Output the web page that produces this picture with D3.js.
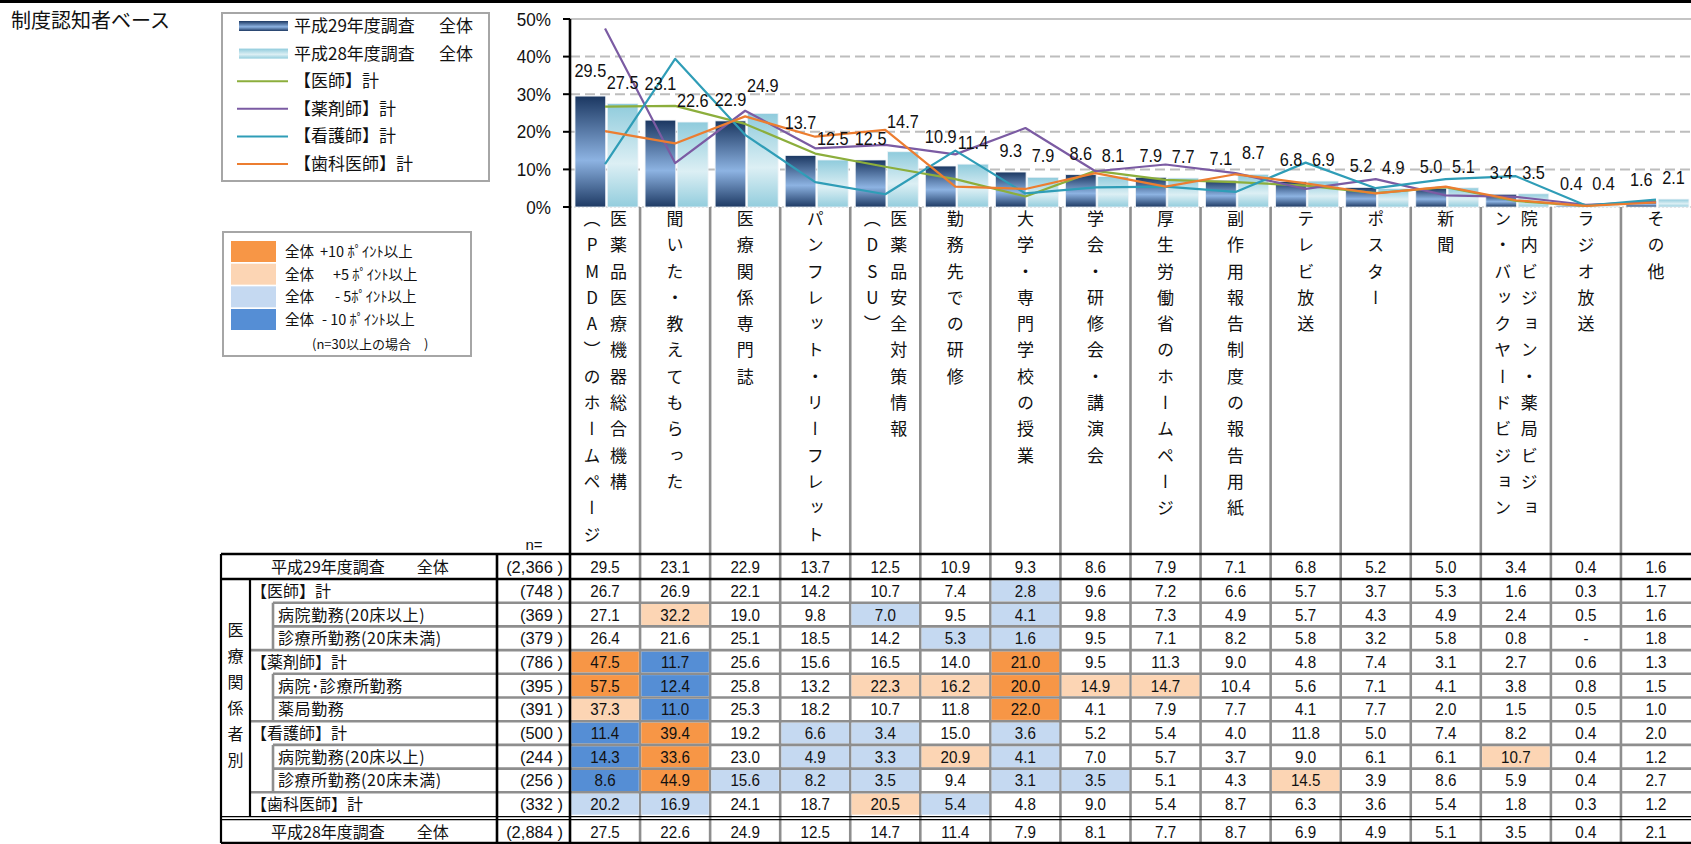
<!DOCTYPE html>
<html>
<head>
<meta charset="utf-8">
<script src="https://cdn.jsdelivr.net/npm/d3@7"></script>
<style>
  body { margin: 0; background: #fff; }
  svg { display: block; font-family: "Liberation Sans", Arial, sans-serif; }
  .jp { font-family: "Noto Sans CJK JP", "Noto Sans CJK SC", sans-serif; }
  .vert { writing-mode: vertical-rl; text-orientation: upright; }
</style>
</head>
<body>
<svg id="chart" width="1691" height="844"></svg>
<script>
// 認知経路（複数回答）: categories, with "\n" where the vertical label wraps to a new column
const categories = [
  "医薬品医療機器総合機構\n（PMDA）のホームページ",
  "聞いた・教えてもらった",
  "医療関係専門誌",
  "パンフレット・リーフレット",
  "医薬品安全対策情報\n（DSU）",
  "勤務先での研修",
  "大学・専門学校の授業",
  "学会・研修会・講演会",
  "厚生労働省のホームページ",
  "副作用報告制度の報告用紙",
  "テレビ放送",
  "ポスター",
  "新聞",
  "院内ビジョン・薬局ビジョ\nン・バックヤードビジョン",
  "ラジオ放送",
  "その他"
];

const yTicks = [0, 10, 20, 30, 40, 50];

// 平成29年度調査 全体 / 平成28年度調査 全体
const h29All = [29.5, 23.1, 22.9, 13.7, 12.5, 10.9, 9.3, 8.6, 7.9, 7.1, 6.8, 5.2, 5.0, 3.4, 0.4, 1.6];
const h28All = [27.5, 22.6, 24.9, 12.5, 14.7, 11.4, 7.9, 8.1, 7.7, 8.7, 6.9, 4.9, 5.1, 3.5, 0.4, 2.1];

// 医療関係者別
const doctorAll      = [26.7, 26.9, 22.1, 14.2, 10.7, 7.4, 2.8, 9.6, 7.2, 6.6, 5.7, 3.7, 5.3, 1.6, 0.3, 1.7];
const doctorHospital = [27.1, 32.2, 19.0, 9.8, 7.0, 9.5, 4.1, 9.8, 7.3, 4.9, 5.7, 4.3, 4.9, 2.4, 0.5, 1.6];
const doctorClinic   = [26.4, 21.6, 25.1, 18.5, 14.2, 5.3, 1.6, 9.5, 7.1, 8.2, 5.8, 3.2, 5.8, 0.8, null, 1.8];
const pharmAll       = [47.5, 11.7, 25.6, 15.6, 16.5, 14.0, 21.0, 9.5, 11.3, 9.0, 4.8, 7.4, 3.1, 2.7, 0.6, 1.3];
const pharmHospClin  = [57.5, 12.4, 25.8, 13.2, 22.3, 16.2, 20.0, 14.9, 14.7, 10.4, 5.6, 7.1, 4.1, 3.8, 0.8, 1.5];
const pharmPharmacy  = [37.3, 11.0, 25.3, 18.2, 10.7, 11.8, 22.0, 4.1, 7.9, 7.7, 4.1, 7.7, 2.0, 1.5, 0.5, 1.0];
const nurseAll       = [11.4, 39.4, 19.2, 6.6, 3.4, 15.0, 3.6, 5.2, 5.4, 4.0, 11.8, 5.0, 7.4, 8.2, 0.4, 2.0];
const nurseHospital  = [14.3, 33.6, 23.0, 4.9, 3.3, 20.9, 4.1, 7.0, 5.7, 3.7, 9.0, 6.1, 6.1, 10.7, 0.4, 1.2];
const nurseClinic    = [8.6, 44.9, 15.6, 8.2, 3.5, 9.4, 3.1, 3.5, 5.1, 4.3, 14.5, 3.9, 8.6, 5.9, 0.4, 2.7];
const dentistAll     = [20.2, 16.9, 24.1, 18.7, 20.5, 5.4, 4.8, 9.0, 5.4, 8.7, 6.3, 3.6, 5.4, 1.8, 0.3, 1.2];

const rowLabels = [
  "平成29年度調査　　全体", "【医師】計", "病院勤務(20床以上)", "診療所勤務(20床未満)",
  "【薬剤師】計", "病院･診療所勤務", "薬局勤務",
  "【看護師】計", "病院勤務(20床以上)", "診療所勤務(20床未満)",
  "【歯科医師】計", "平成28年度調査　　全体"
];
const rowN = ["(2,366 )", "(748 )", "(369 )", "(379 )", "(786 )", "(395 )", "(391 )",
              "(500 )", "(244 )", "(256 )", "(332 )", "(2,884 )"];
const rowKinds = ["total", "group", "sub", "sub", "group", "sub", "sub",
                  "group", "sub", "sub", "group", "total"];
const rowValues = [h29All, doctorAll, doctorHospital, doctorClinic, pharmAll, pharmHospClin,
                   pharmPharmacy, nurseAll, nurseHospital, nurseClinic, dentistAll, h28All];

const lineSeries = [
  { name: "【医師】計",     values: doctorAll,  color: "#8cae3c" },
  { name: "【薬剤師】計",   values: pharmAll,   color: "#7b5ba3" },
  { name: "【看護師】計",   values: nurseAll,   color: "#2f9db7" },
  { name: "【歯科医師】計", values: dentistAll, color: "#ec7d30" }
];

const highlightLegend = [
  { color: "#F79646", lead: "全体", text: "+10 ﾎﾟｲﾝﾄ以上", dx: 35 },
  { color: "#FCD5B4", lead: "全体", text: "+5 ﾎﾟｲﾝﾄ以上",  dx: 48 },
  { color: "#C5D9F1", lead: "全体", text: "- 5ﾎﾟｲﾝﾄ以上",   dx: 50 },
  { color: "#558ED5", lead: "全体", text: "- 10 ﾎﾟｲﾝﾄ以上", dx: 37 }
];

// hand-placed lifts for a few value labels that sit clear of the lines
const h29LabelLift = [4, 15, 0, 11, 0, 8, 0, 0, 0, 0, 0, 0, 0, 0, 0, 0];
const h28LabelLift = [0, 0, 6, 0, 9, 0, 0, 0, 0, 0, 0, 0, 0, 0, 0, 0];

// ---------------------------------------------------------------------------
const svg = d3.select("#chart");
const W = 1691, H = 844;

const x = d3.scaleBand().domain(categories).range([570, W]);
const xs = d3.scaleBand().domain(["h29", "h28"]).range([5, 68]).paddingInner(0.05);
const y = d3.scaleLinear().domain([0, 50]).range([207, 19]);
const cx = c => x(c) + x.bandwidth() / 2;

const defs = svg.append("defs");
function vGrad(id, stops) {
  const g = defs.append("linearGradient").attr("id", id)
    .attr("x1", 0).attr("y1", 0).attr("x2", 0).attr("y2", 1);
  stops.forEach(([o, c]) => g.append("stop").attr("offset", o).attr("stop-color", c));
}
vGrad("g29", [[0, "#1b3761"], [0.58, "#8db3e2"], [1, "#1e3a64"]]);
vGrad("g28", [[0, "#8fcbdc"], [0.58, "#dceff4"], [1, "#93cddd"]]);

function condensed(sel, px, py, str, opts) {
  const o = Object.assign({ size: 16, sx: 1, anchor: "middle", fill: "#111" }, opts || {});
  return sel.append("text")
    .attr("transform", `translate(${px},${py}) scale(${o.sx},1)`)
    .attr("text-anchor", o.anchor)
    .attr("font-size", o.size)
    .attr("fill", o.fill)
    .text(str);
}

// frame line along the top edge
svg.append("line").attr("x1", 0).attr("x2", W).attr("y1", 1.5).attr("y2", 1.5)
  .attr("stroke", "#000").attr("stroke-width", 3);

svg.append("text").attr("class", "jp").attr("x", 11).attr("y", 28)
  .attr("font-size", 20).attr("fill", "#111").text("制度認知者ベース");

// ---- grid & axis ----
const grid = svg.append("g");
yTicks.filter(t => t > 0).forEach(t => {
  grid.append("line").attr("x1", 570).attr("x2", W).attr("y1", y(t)).attr("y2", y(t))
    .attr("stroke", t === 50 ? "#c4c4c4" : "#bdbdbd").attr("stroke-width", 2)
    .attr("stroke-dasharray", t === 50 ? null : "10,5");
});
grid.append("line").attr("x1", 570).attr("x2", W).attr("y1", y(0)).attr("y2", y(0))
  .attr("stroke", "#cfcfcf").attr("stroke-width", 1.5).attr("stroke-dasharray", "2,2");

const axis = svg.append("g");
yTicks.forEach(t => {
  axis.append("line").attr("x1", 563).attr("x2", 570).attr("y1", y(t)).attr("y2", y(t))
    .attr("stroke", "#000").attr("stroke-width", 2);
  condensed(axis, 551, y(t) + 6.5, t + "%", { size: 18, sx: 0.95, anchor: "end" });
});

// column separators below the plot, running through the table
const seps = svg.append("g");
categories.slice(1).forEach(c => {
  seps.append("line").attr("x1", x(c)).attr("x2", x(c)).attr("y1", y(0)).attr("y2", 843)
    .attr("stroke", "#8e8e8e").attr("stroke-width", 2.6);
});

// ---- bars ----
const bars = svg.append("g");
categories.forEach((c, i) => {
  [["h29", h29All[i], "url(#g29)"], ["h28", h28All[i], "url(#g28)"]].forEach(([k, v, f]) => {
    bars.append("rect")
      .attr("x", x(c) + xs(k)).attr("width", xs.bandwidth())
      .attr("y", y(v)).attr("height", y(0) - y(v))
      .attr("fill", f).attr("stroke", "#eef3f7").attr("stroke-width", 0.8);
  });
});

// ---- lines ----
const line = d3.line().x((d, i) => cx(categories[i])).y(d => y(d));
lineSeries.forEach(s => {
  svg.append("path").attr("d", line(s.values)).attr("fill", "none")
    .attr("stroke", s.color).attr("stroke-width", 2.2).attr("stroke-linejoin", "round");
});

// ---- value labels ----
const labels = svg.append("g");
categories.forEach((c, i) => {
  condensed(labels, x(c) + xs("h29") + xs.bandwidth() / 2, y(h29All[i]) - 15 - h29LabelLift[i],
    h29All[i].toFixed(1), { size: 18.5, sx: 0.88 });
  condensed(labels, x(c) + xs("h28") + xs.bandwidth() / 2, y(h28All[i]) - 15 - h28LabelLift[i],
    h28All[i].toFixed(1), { size: 18.5, sx: 0.88 });
});

// ---- vertical category labels ----
const catG = svg.append("g").attr("class", "jp");
categories.forEach(c => {
  const cols = c.split("\n");
  const offs = cols.length === 1 ? [0] : [13.5, -13];
  cols.forEach((s, k) => {
    catG.append("text").attr("class", "vert")
      .attr("x", cx(c) + offs[k]).attr("y", 210)
      .attr("font-size", 17).attr("letter-spacing", "9.3px").attr("fill", "#111")
      .text(s);
  });
});

svg.append("text").attr("x", 534).attr("y", 550).attr("text-anchor", "middle")
  .attr("font-size", 15).attr("fill", "#111").text("n=");

// ---- legend: series ----
const leg = svg.append("g");
leg.append("rect").attr("x", 222).attr("y", 13).attr("width", 267).attr("height", 168)
  .attr("fill", "#fff").attr("stroke", "#a6a6a6").attr("stroke-width", 2);
const legY = d3.scalePoint().domain(d3.range(6)).range([26, 164]);
leg.append("rect").attr("x", 239).attr("y", legY(0) - 5).attr("width", 49).attr("height", 10)
  .attr("fill", "url(#g29)");
leg.append("rect").attr("x", 239).attr("y", legY(1) - 5).attr("width", 49).attr("height", 10)
  .attr("fill", "url(#g28)");
lineSeries.forEach((s, k) => {
  leg.append("line").attr("x1", 237).attr("x2", 288).attr("y1", legY(k + 2)).attr("y2", legY(k + 2))
    .attr("stroke", s.color).attr("stroke-width", 2);
});
[["平成29年度調査", "全体"], ["平成28年度調査", "全体"]].forEach(([a, b], k) => {
  leg.append("text").attr("class", "jp").attr("x", 294).attr("y", legY(k) + 6)
    .attr("font-size", 17).attr("fill", "#111").text(a);
  leg.append("text").attr("class", "jp").attr("x", 439).attr("y", legY(k) + 6)
    .attr("font-size", 17).attr("fill", "#111").text(b);
});
lineSeries.forEach((s, k) => {
  leg.append("text").attr("class", "jp").attr("x", 294).attr("y", legY(k + 2) + 6)
    .attr("font-size", 17).attr("fill", "#111").text(s.name);
});

// ---- legend: cell highlight ----
const leg2 = svg.append("g").attr("class", "jp");
leg2.append("rect").attr("x", 223).attr("y", 232).attr("width", 248).attr("height", 124)
  .attr("fill", "#fff").attr("stroke", "#a6a6a6").attr("stroke-width", 2);
const leg2Y = d3.scalePoint().domain(d3.range(4)).range([251.5, 319.5]);
highlightLegend.forEach((h, k) => {
  leg2.append("rect").attr("x", 231).attr("y", leg2Y(k) - 10.5).attr("width", 45).attr("height", 21)
    .attr("fill", h.color);
  leg2.append("text").attr("x", 285).attr("y", leg2Y(k) + 5.5).attr("font-size", 14.5)
    .attr("fill", "#111").text(h.lead);
  leg2.append("text").attr("x", 285 + h.dx).attr("y", leg2Y(k) + 5.5).attr("font-size", 14.5)
    .attr("fill", "#111").text(h.text);
});
leg2.append("text").attr("x", 312).attr("y", 349).attr("font-size", 13)
  .attr("fill", "#111").text("(n=30以上の場合　)");

// ---- table ----
const mid = d3.scaleBand().domain(d3.range(1, 11)).range([579, 816]);
const rowTop = r => r === 0 ? 554 : r === 11 ? 820 : mid(r);
const rowBot = r => r === 0 ? 579 : r === 11 ? 843 : mid(r) + mid.bandwidth();

function cellColor(v, base) {
  if (v == null) return null;
  const d = Math.round((v - base) * 10) / 10;
  if (d > 10) return "#F79646";
  if (d > 5) return "#FCD5B4";
  if (d < -10) return "#558ED5";
  if (d < -5) return "#C5D9F1";
  return null;
}

const tbl = svg.append("g");
const fills = tbl.append("g");
rowValues.forEach((vals, r) => {
  if (rowKinds[r] === "total") return;
  vals.forEach((v, i) => {
    const col = cellColor(v, h29All[i]);
    if (!col) return;
    fills.append("rect").attr("x", x(categories[i]) + 1.3).attr("width", x.bandwidth() - 2.6)
      .attr("y", rowTop(r) + 1.3).attr("height", rowBot(r) - rowTop(r) - 2.6).attr("fill", col);
  });
});

// gray rules
const gray = tbl.append("g").attr("stroke", "#8e8e8e").attr("stroke-width", 2.6);
for (let r = 1; r <= 9; r++) {
  const nextSub = rowKinds[r + 1] === "sub";
  gray.append("line").attr("x1", nextSub ? 273 : 250).attr("x2", W)
    .attr("y1", rowBot(r)).attr("y2", rowBot(r));
}
[[2, 3], [5, 6], [8, 9]].forEach(([a, b]) => {
  gray.append("line").attr("x1", 273).attr("x2", 273).attr("y1", rowTop(a)).attr("y2", rowBot(b));
});

// black rules
const black = tbl.append("g").attr("stroke", "#000");
[[554, 2.6], [579, 2.6], [816.6, 1.4], [819.6, 1.4], [843, 2.6]].forEach(([yy, w]) => {
  black.append("line").attr("x1", 221).attr("x2", W).attr("y1", yy).attr("y2", yy).attr("stroke-width", w);
});
black.append("line").attr("x1", 221).attr("x2", 221).attr("y1", 554).attr("y2", 843).attr("stroke-width", 2.2);
black.append("line").attr("x1", 250).attr("x2", 250).attr("y1", 579).attr("y2", 816.6).attr("stroke-width", 2.2);
black.append("line").attr("x1", 497).attr("x2", 497).attr("y1", 554).attr("y2", 843).attr("stroke-width", 2.6);
black.append("line").attr("x1", 570).attr("x2", 570).attr("y1", y(50)).attr("y2", 843).attr("stroke-width", 2.6);

// row texts
const txt = tbl.append("g");
rowLabels.forEach((t, r) => {
  const yc = (rowTop(r) + rowBot(r)) / 2;
  const kind = rowKinds[r];
  txt.append("text").attr("class", "jp")
    .attr("x", kind === "total" ? 360 : kind === "group" ? 251 : 278)
    .attr("y", yc + 6).attr("text-anchor", kind === "total" ? "middle" : "start")
    .attr("font-size", 16).attr("letter-spacing", kind === "sub" ? "0.6px" : null)
    .attr("fill", "#111").text(t);
  txt.append("text").attr("x", 563).attr("y", yc + 6).attr("text-anchor", "end")
    .attr("font-size", 16.5).attr("fill", "#111").text(rowN[r]);
  rowValues[r].forEach((v, i) => {
    condensed(txt, cx(categories[i]), yc + 6, v == null ? "-" : v.toFixed(1), { size: 16.5, sx: 0.92 });
  });
});

// group caption written top-to-bottom
txt.append("text").attr("class", "jp vert").attr("x", 235.5).attr("y", 622)
  .attr("font-size", 16).attr("letter-spacing", "10px").attr("fill", "#111").text("医療関係者別");
</script>
</body>
</html>
